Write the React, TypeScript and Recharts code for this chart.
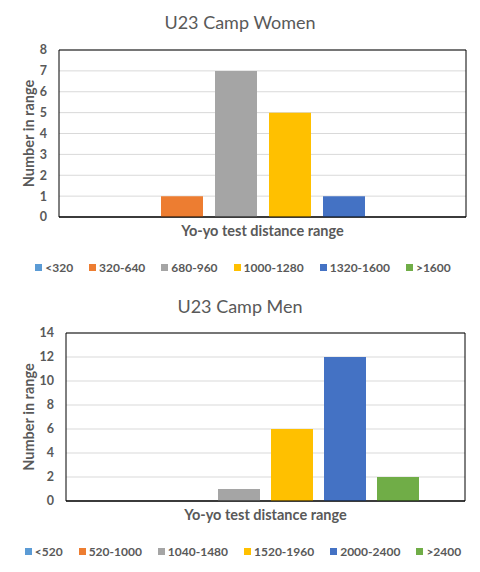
import React from "react";
import {
  BarChart,
  Bar,
  XAxis,
  YAxis,
  CartesianGrid,
  Legend,
  ReferenceArea,
  Label,
} from "recharts";

// Women: yo-yo test distance ranges and how many athletes fell in each
const womenRanges = ["<320", "320-640", "680-960", "1000-1280", "1320-1600", ">1600"];
const womenCounts = [0, 1, 7, 5, 1, 0];
const womenTicks = [0, 1, 2, 3, 4, 5, 6, 7, 8];

// Men
const menRanges = ["<520", "520-1000", "1040-1480", "1520-1960", "2000-2400", ">2400"];
const menCounts = [0, 0, 1, 6, 12, 2];
const menTicks = [0, 2, 4, 6, 8, 10, 12, 14];

// Office default series colours
const COLORS = ["#5b9bd5", "#ed7d31", "#a5a5a5", "#ffc000", "#4472c4", "#70ad47"];

const FONT = "Lato, 'DejaVu Sans', sans-serif";
const TEXT = "#595959";

type Props = {
  title: string;
  ranges: string[];
  counts: number[];
  ticks: number[];
  height: number;
  marginTop: number;
  marginRight: number;
  yAxisWidth: number;
  barSize: number;
  barGap: number;
  bottom: number;
};

function LegendRow({ payload, order }: any) {
  // recharts sorts legend items by name; put them back in series order
  const items = [...(payload || [])].sort(
    (a: any, b: any) => order.indexOf(a.value) - order.indexOf(b.value)
  );
  return (
    <div
      style={{
        display: "flex",
        justifyContent: "center",
        gap: 16,
        fontFamily: FONT,
        fontSize: 12,
        fontWeight: 700,
        color: TEXT,
        paddingLeft: 6,
      }}
    >
      {items.map((entry: any) => (
        <div key={entry.value} style={{ display: "flex", alignItems: "center" }}>
          <span
            style={{
              width: 7,
              height: 7,
              background: entry.color,
              marginRight: 3,
              display: "inline-block",
            }}
          />
          <span>{entry.value}</span>
        </div>
      ))}
    </div>
  );
}

function RangeChart(props: Props) {
  const { title, ranges, counts, ticks, height } = props;
  const row: Record<string, number | string> = { name: "" };
  ranges.forEach((r, i) => {
    row["s" + i] = counts[i];
  });
  const top = ticks[ticks.length - 1];

  return (
    <div style={{ position: "relative", width: 480, height }}>
      <div
        style={{
          position: "absolute",
          top: 10,
          left: 0,
          width: 480,
          textAlign: "center",
          fontFamily: FONT,
          fontSize: 18,
          lineHeight: "24px",
          color: TEXT,
          zIndex: 1,
        }}
      >
        {title}
      </div>
      <BarChart
        width={480}
        height={height}
        data={[row]}
        margin={{ top: props.marginTop, right: props.marginRight, bottom: props.bottom, left: 0 }}
        barSize={props.barSize}
        barGap={props.barGap}
      >
        <CartesianGrid vertical={false} stroke="#d9d9d9" />
        <XAxis
          dataKey="name"
          tick={false}
          tickLine={false}
          axisLine={{ stroke: "#000" }}
          height={30}
        >
          <Label
            content={({ viewBox }: any) => (
              <text
                x={viewBox.x + viewBox.width / 2}
                y={viewBox.y + 13}
                textAnchor="middle"
                dominantBaseline="central"
                fontFamily={FONT}
                fontSize={14.5}
                fontWeight={700}
                fill={TEXT}
              >
                Yo-yo test distance range
              </text>
            )}
          />
        </XAxis>
        <YAxis
          width={props.yAxisWidth}
          domain={[0, top]}
          ticks={ticks}
          interval={0}
          tickLine={false}
          axisLine={false}
          tickSize={6}
          tickMargin={6}
          tick={{ fontFamily: FONT, fontSize: 12.5, fontWeight: 700, fill: TEXT }}
        >
          <Label
            content={({ viewBox }: any) => {
              const cx = 28.5;
              const cy = viewBox.y + viewBox.height / 2;
              return (
                <text
                  x={cx}
                  y={cy}
                  transform={`rotate(-90, ${cx}, ${cy})`}
                  textAnchor="middle"
                  dominantBaseline="central"
                  fontFamily={FONT}
                  fontSize={14.5}
                  fontWeight={700}
                  fill={TEXT}
                >
                  Number in range
                </text>
              );
            }}
          />
        </YAxis>
        <ReferenceArea y1={0} y2={top} fill="none" stroke="#000" strokeWidth={1} ifOverflow="visible" />
        {ranges.map((r, i) => (
          <Bar
            key={r}
            dataKey={"s" + i}
            name={r}
            fill={COLORS[i]}
            isAnimationActive={false}
          />
        ))}
        <Legend
          layout="horizontal"
          verticalAlign="middle"
          content={<LegendRow order={ranges} />}
          wrapperStyle={{ top: 260, left: 0, width: 480 }}
        />
      </BarChart>
    </div>
  );
}

export default function App() {
  return (
    <div style={{ width: 480, height: 572, background: "#fff" }}>
      <style>{`body { margin: 0; }`}</style>
      <RangeChart
        title="U23 Camp Women"
        ranges={womenRanges}
        counts={womenCounts}
        ticks={womenTicks}
        height={284}
        marginTop={50}
        marginRight={14}
        yAxisWidth={59}
        barSize={42}
        barGap={12}
        bottom={37}
      />
      <RangeChart
        title="U23 Camp Men"
        ranges={menRanges}
        counts={menCounts}
        ticks={menTicks}
        height={288}
        marginTop={49}
        marginRight={15}
        yAxisWidth={66}
        barSize={42}
        barGap={11}
        bottom={41}
      />
    </div>
  );
}
